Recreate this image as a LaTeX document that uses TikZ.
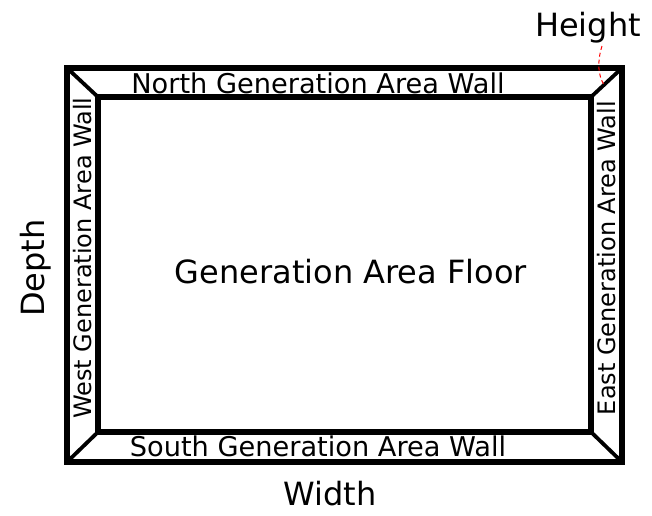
\documentclass[tikz,border=0pt]{standalone}
\usepackage{fontspec}
\setmainfont{DejaVu Sans}
\begin{document}
\begin{tikzpicture}[x=1pt,y=-1pt,
  thick line/.style={line width=5.5pt,line join=miter},
  diag/.style={line width=3.8pt},
  wall/.style={inner sep=0pt,font=\fontsize{27.2}{30}\selectfont},
  sidewall/.style={inner sep=0pt,font=\fontsize{24}{28}\selectfont},
  big/.style={inner sep=0pt,font=\fontsize{32}{36}\selectfont}]
\useasboundingbox (0,0) rectangle (652,515);
\coordinate (o1) at (67,68);
\coordinate (o2) at (622,68);
\coordinate (o3) at (622,462);
\coordinate (o4) at (67,462);
\coordinate (i1) at (98,97);
\coordinate (i2) at (591,97);
\coordinate (i3) at (591,432);
\coordinate (i4) at (98,432);
\draw[diag] (o1) -- (i1);
\draw[diag] (o2) -- (i2);
\draw[diag] (o3) -- (i3);
\draw[diag] (o4) -- (i4);
\draw[thick line] (o1) rectangle (o3);
\draw[thick line] (i1) rectangle (i3);
\node[wall] (north) at (318,83) {North Generation Area Wall};
\node[wall] (south) at (318,446) {South Generation Area Wall};
\node[sidewall,rotate=90] (west) at (83,258) {West Generation Area Wall};
\node[sidewall,rotate=90] (east) at (607,258) {East Generation Area Wall};
\node[big] (floor) at (351,272) {Generation Area Floor};
\node[big] (height) at (588,28) {Height};
\node[big,rotate=90] (depth) at (36,268) {Depth};
\node[big] (width) at (330,494) {Width};
\coordinate (hend) at (604,85);
\draw[red,line width=1pt,dash pattern=on 4pt off 3pt] (602,46) .. controls (597,62) and (598,75) .. (hend);
\end{tikzpicture}
\end{document}
